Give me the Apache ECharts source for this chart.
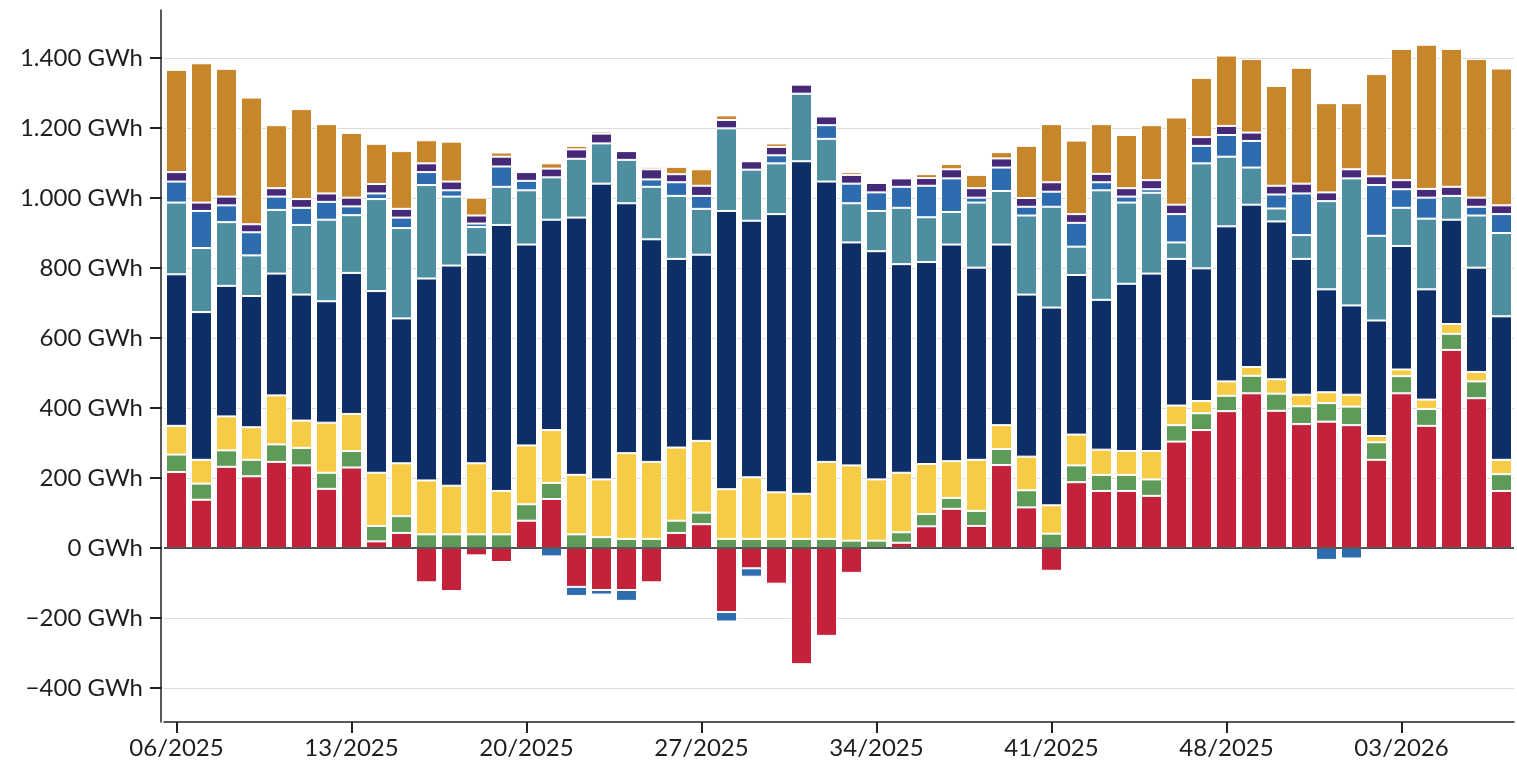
<!DOCTYPE html>
<html>
<head>
<meta charset="utf-8">
<script src="https://cdn.jsdelivr.net/npm/echarts@6/dist/echarts.min.js"></script>
<style>
  html, body { margin: 0; padding: 0; background: #fff; }
  #chart { width: 1517px; height: 765px; }
</style>
</head>
<body>
<div id="chart"></div>
<script>
const weeks = [
  "06/2025","07/2025","08/2025","09/2025","10/2025","11/2025","12/2025","13/2025","14/2025","15/2025",
  "16/2025","17/2025","18/2025","19/2025","20/2025","21/2025","22/2025","23/2025","24/2025","25/2025",
  "26/2025","27/2025","28/2025","29/2025","30/2025","31/2025","32/2025","33/2025","34/2025","35/2025",
  "36/2025","37/2025","38/2025","39/2025","40/2025","41/2025","42/2025","43/2025","44/2025","45/2025",
  "46/2025","47/2025","48/2025","49/2025","50/2025","51/2025","52/2025","01/2026","02/2026","03/2026",
  "04/2026","05/2026","06/2026","07/2026"
];

// GWh per week, bottom to top of the stack
const red = [217,138,232,205,246,236,169,230,19,43, -98,-123,-21,-40,78,140,-111,-120,-120,-98,
  43,68,-183,-58,-102,-332,-251,-71,0,15, 62,112,63,237,116,-65,188,163,163,149,
  304,337,391,442,392,354,361,351,252,442, 349,566,428,163];
const green = [50,46,47,47,50,50,46,47,44,48, 39,39,39,39,47,46,39,31,26,26,
  35,33,26,26,26,26,26,21,21,30, 35,31,43,46,49,41,48,46,46,47,
  47,48,44,50,49,51,53,53,50,49, 48,46,48,48];
const yellow = [82,68,97,93,140,78,143,106,152,151, 154,139,203,124,168,151,170,165,245,220,
  209,205,142,176,133,129,220,215,175,170, 143,105,146,68,96,81,88,72,68,81,
  56,35,41,25,41,33,31,34,18,19, 27,28,27,41];
const navy = [433,422,373,375,348,360,347,403,519,414, 577,629,596,760,574,601,735,845,714,636,
  539,532,795,733,795,950,801,637,652,596, 577,619,549,516,463,565,456,428,478,507,
  419,379,443,464,451,388,294,255,330,353, 315,298,298,410];
const teal = [205,183,182,116,182,199,233,165,263,258, 267,197,79,109,155,121,168,115,124,150,
  180,131,236,146,145,193,122,112,115,161, 128,93,186,153,226,288,81,313,232,231,
  47,300,199,106,37,68,252,363,242,109, 202,68,149,238];
const blue = [60,106,48,66,38,49,51,25,16,30, 37,18,10,58,27,-24,-26,-13,-31,21,
  39,37,-27,-24,23,0,39,56,53,60, 90,96,14,67,25,43,68,23,17,10,
  81,50,62,76,40,119,-34,-30,145,53, 60,0,25,54];
const purple = [27,24,25,23,24,25,24,25,27,25, 25,25,23,28,25,25,27,28,25,29,
  23,29,24,24,24,26,25,25,27,24, 22,26,27,26,25,27,25,24,24,26,
  27,25,26,24,25,28,25,26,25,26, 25,26,26,25];
const orange = [292,398,365,362,180,257,198,185,115,165, 66,114,51,12,4,15,10,6,0,7,
  21,47,13,0,10,0,0,8,5,0, 11,15,38,18,149,166,210,142,152,157,
  249,169,201,210,285,331,255,189,292,375, 412,394,396,391];

const yMin = -400, yMax = 1400, yStep = 200;

const layers = [
  { data: red, color: "#C4213A" },
  { data: green, color: "#5E9B58" },
  { data: yellow, color: "#F6CB45" },
  { data: navy, color: "#0E2E68" },
  { data: teal, color: "#4D8FA1" },
  { data: blue, color: "#2D6CAF" },
  { data: purple, color: "#47297A" },
  { data: orange, color: "#C8862B" },
];

function fmt(v) {
  const s = Math.abs(v).toString().replace(/\B(?=(\d{3})+(?!\d))/g, ".");
  return (v < 0 ? "\u2212" : "") + s + " GWh";
}

const ink = "#222";
const chart = echarts.init(document.getElementById("chart"), null, { renderer: "canvas" });

const series = layers.map((l, i) => ({
  type: "bar",
  stack: "total",
  xAxisIndex: 0,
  yAxisIndex: 0,
  data: l.data,
  barWidth: 21,
  clip: false,
  itemStyle: { color: l.color, borderColor: "#fff", borderWidth: 1 },
  animation: false,
  ...(i === 0 ? {
    markLine: {
      silent: true, symbol: "none", animation: false,
      label: { show: false },
      lineStyle: { color: ink, width: 1.5, type: "solid" },
      data: [{ yAxis: 0 }],
    },
  } : {}),
}));

chart.setOption({
  animation: false,
  // grid 0: bars and value scale; grid 1: the longer frame lines and week labels;
  // grid 2: a narrow strip left of the axis whose split lines act as the y ticks
  grid: [
    { left: 164, right: 3, top: 58, bottom: 77 },
    { left: 164, right: 3, top: 10, bottom: 43 },
    { left: 150, width: 12, top: 58, bottom: 77 },
  ],
  xAxis: [
    { gridIndex: 0, type: "category", data: weeks, show: false },
    {
      gridIndex: 1,
      type: "category",
      data: weeks,
      axisLine: { show: true, onZero: false, lineStyle: { color: ink, width: 1.5 } },
      axisTick: { show: true, inside: false, interval: 6, alignWithLabel: true, length: 11, lineStyle: { color: ink, width: 2 } },
      axisLabel: { interval: 6, margin: 14, color: "#1e1e1e", fontFamily: "Lato", fontSize: 24 },
      splitLine: { show: false },
    },
    { gridIndex: 2, type: "value", show: false, splitLine: { show: false } },
  ],
  yAxis: [
    {
      gridIndex: 0,
      type: "value",
      min: yMin,
      max: yMax,
      interval: yStep,
      axisLine: { show: false },
      axisTick: { show: false },
      axisLabel: { margin: 21, color: "#1e1e1e", fontFamily: "Lato", fontSize: 24, formatter: fmt },
      splitLine: { show: true, lineStyle: { color: "#dcdcdc", width: 1 } },
    },
    {
      gridIndex: 1,
      type: "value",
      min: 0,
      max: 1,
      offset: 3,
      axisLine: { show: true, onZero: false, lineStyle: { color: ink, width: 1.5 } },
      axisTick: { show: false },
      axisLabel: { show: false },
      splitLine: { show: false },
    },
    {
      gridIndex: 2,
      type: "value",
      min: yMin,
      max: yMax,
      interval: yStep,
      axisLine: { show: false },
      axisTick: { show: false },
      axisLabel: { show: false },
      splitLine: { show: true, lineStyle: { color: ink, width: 2 } },
    },
  ],
  series,
});
</script>
</body>
</html>
